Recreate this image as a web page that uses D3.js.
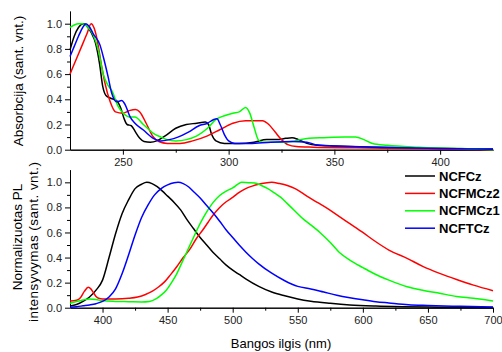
<!DOCTYPE html>
<html>
<head>
<meta charset="utf-8">
<script src="https://cdn.jsdelivr.net/npm/d3@7"></script>
<style>
  body { margin: 0; background: #fff; }
  svg { display: block; font-family: "Liberation Sans", Arial, sans-serif; }
  .tick text { font-size: 11px; fill: #222; }
  .domain, .tick line { stroke: #000; }
</style>
</head>
<body>
<div id="canvas"></div>
<script>
// absorption spectra [wavelength nm, normalised value]
const absNCFCz = [[225,0.79],[227,0.9],[229,0.97],[231.5,1.0],[233,0.98],[235,0.93],[237,0.85],[239,0.68],[240.5,0.5],[242,0.43],[244,0.41],[247,0.39],[249,0.33],[250.5,0.25],[252,0.2],[254,0.19],[256,0.14],[258,0.09],[260,0.065],[263,0.06],[266,0.07],[270,0.11],[275,0.17],[280,0.2],[285,0.21],[289,0.22],[290.5,0.2],[292,0.12],[294,0.07],[298,0.05],[305,0.05],[312,0.06],[318,0.08],[323,0.08],[327,0.09],[330,0.095],[333,0.08],[337,0.05],[342,0.035],[350,0.03],[370,0.02],[400,0.01],[425,0.005]];
const absNCFMCz2 = [[225,0.6],[227,0.68],[229,0.76],[231,0.84],[233,0.92],[235,1.0],[236.3,0.97],[237.5,0.9],[240,0.66],[241.5,0.53],[244,0.38],[246.5,0.3],[250,0.29],[253,0.31],[256,0.32],[258,0.3],[261,0.21],[264,0.11],[267,0.065],[271,0.05],[277,0.05],[283,0.07],[290,0.11],[296,0.16],[302,0.21],[308,0.23],[316,0.23],[319,0.2],[322,0.14],[325,0.08],[328,0.04],[332,0.025],[340,0.02],[360,0.015],[400,0.005],[425,0.0]];
const absNCFMCz1 = [[225,0.97],[227,0.99],[229,1.0],[231,1.0],[233,0.98],[236,0.91],[238.4,0.79],[240.7,0.6],[243,0.51],[244.7,0.47],[247.9,0.34],[250.2,0.29],[253.4,0.26],[255.7,0.26],[259.7,0.2],[264.4,0.13],[268,0.1],[271,0.08],[275,0.07],[280,0.08],[285,0.11],[290,0.17],[294,0.24],[298,0.27],[302,0.29],[305,0.3],[308,0.335],[310,0.29],[312,0.18],[314,0.08],[316,0.06],[325,0.06],[330,0.065],[334,0.08],[338,0.09],[345,0.095],[355,0.1],[360,0.1],[364,0.08],[368,0.05],[375,0.035],[390,0.02],[410,0.01],[425,0.0]];
const absNCFTCz = [[225,0.74],[227,0.82],[229,0.9],[231,0.97],[232.5,1.0],[234,0.98],[236,0.92],[239.2,0.83],[240.7,0.74],[243,0.58],[244.7,0.45],[247.1,0.38],[249.4,0.39],[251,0.36],[253.4,0.26],[255.7,0.21],[259.7,0.156],[264.4,0.09],[267.6,0.07],[272,0.08],[276,0.1],[281,0.14],[286,0.19],[290,0.21],[293,0.24],[294.5,0.245],[296,0.2],[298,0.12],[300,0.07],[303,0.05],[310,0.05],[320,0.06],[330,0.065],[337,0.06],[341,0.04],[350,0.03],[370,0.02],[400,0.01],[425,0.003]];

// photoluminescence spectra [wavelength nm, normalised value]
const plNCFCz = [[375,0.014],[380,0.025],[385,0.05],[390,0.085],[395,0.14],[400,0.22],[405,0.4],[410,0.59],[415,0.75],[420,0.86],[425,0.95],[430,0.985],[434,1.0],[438,0.99],[442,0.965],[446,0.93],[450,0.89],[455,0.84],[460,0.78],[465,0.7],[470,0.63],[475,0.56],[480,0.5],[485,0.44],[490,0.39],[495,0.34],[500,0.3],[505,0.265],[510,0.23],[520,0.17],[530,0.125],[540,0.095],[550,0.07],[560,0.052],[575,0.035],[590,0.022],[610,0.013],[630,0.008],[650,0.005],[675,0.003],[700,0.002]];
const plNCFMCz2 = [[375,0.053],[380,0.06],[383,0.08],[386,0.13],[389,0.163],[391,0.15],[393,0.12],[395,0.09],[397,0.075],[400,0.07],[410,0.07],[420,0.075],[427,0.085],[433,0.105],[438,0.13],[443,0.165],[448,0.21],[452,0.26],[457,0.327],[462,0.4],[467,0.465],[472,0.55],[477,0.62],[481,0.68],[485,0.74],[490,0.8],[495,0.845],[500,0.88],[505,0.92],[510,0.95],[515,0.97],[520,0.985],[525,0.995],[530,1.0],[536,0.99],[542,0.975],[548,0.95],[557,0.89],[565,0.84],[573,0.79],[582,0.726],[590,0.67],[600,0.6],[608,0.54],[620,0.46],[634,0.394],[646,0.33],[659,0.274],[672,0.225],[685,0.18],[700,0.136]];
const plNCFMCz1 = [[375,0.035],[380,0.05],[385,0.062],[390,0.07],[395,0.065],[400,0.055],[410,0.05],[420,0.048],[430,0.046],[436,0.05],[441,0.07],[445,0.1],[449,0.14],[453,0.2],[457,0.27],[461,0.36],[465,0.45],[469,0.54],[473,0.63],[477,0.71],[481,0.78],[485,0.84],[490,0.895],[495,0.93],[500,0.955],[504,0.985],[507,1.0],[512,0.997],[517,0.995],[522,0.975],[527,0.95],[532,0.915],[537,0.88],[542,0.83],[548,0.77],[555,0.7],[560,0.66],[567,0.6],[575,0.52],[582,0.44],[590,0.38],[600,0.32],[608,0.275],[620,0.22],[634,0.167],[646,0.14],[659,0.115],[672,0.09],[685,0.075],[700,0.053]];
const plNCFTCz = [[375,0.003],[380,0.008],[385,0.015],[390,0.022],[395,0.032],[400,0.05],[405,0.085],[410,0.15],[415,0.27],[420,0.42],[425,0.58],[430,0.72],[435,0.82],[440,0.9],[445,0.95],[450,0.98],[455,0.997],[458,1.0],[462,0.99],[466,0.965],[470,0.925],[475,0.875],[480,0.815],[485,0.755],[490,0.69],[495,0.62],[500,0.56],[505,0.5],[510,0.445],[515,0.395],[520,0.35],[530,0.275],[540,0.215],[550,0.17],[560,0.15],[570,0.125],[580,0.1],[590,0.08],[600,0.063],[610,0.048],[620,0.038],[635,0.024],[650,0.018],[675,0.011],[700,0.006]];

const seriesNames = ["NCFCz", "NCFMCz2", "NCFMCz1", "NCFTCz"];
const seriesColors = ["#000000", "#ff0000", "#00ff00", "#0000ff"];
const absData = [absNCFCz, absNCFMCz2, absNCFMCz1, absNCFTCz];
const plData = [plNCFCz, plNCFMCz2, plNCFMCz1, plNCFTCz];

const yMajor = [0, 0.2, 0.4, 0.6, 0.8, 1.0];
const yMinor = [0.1, 0.3, 0.5, 0.7, 0.9];
const absMajor = [250, 300, 350, 400];
const absMinor = [275, 325, 375];
const plMajor = [400, 450, 500, 550, 600, 650, 700];
const plMinor = [425, 475, 525, 575, 625, 675];

const svg = d3.select("#canvas")
    .append("svg")
    .attr("width", 502)
    .attr("height", 352);

function drawPanel(data, xDomain, xMajor, xMinor, top, bottom, smooth) {
    const x = d3.scaleLinear().domain(xDomain).range([70, 493]);
    const y = d3.scaleLinear().domain([0, 1.1]).range([bottom, top]);

    // minor ticks first, majors on top
    svg.append("g")
        .attr("transform", `translate(0,${bottom})`)
        .call(d3.axisBottom(x).tickValues(xMinor).tickSize(3).tickSizeOuter(0).tickFormat(""));
    svg.append("g")
        .attr("transform", `translate(0,${bottom})`)
        .call(d3.axisBottom(x).tickValues(xMajor).tickSize(5).tickSizeOuter(0).tickPadding(4).tickFormat(d3.format("d")));

    svg.append("g")
        .attr("transform", "translate(70,0)")
        .call(d3.axisLeft(y).tickValues(yMinor).tickSize(3).tickSizeOuter(0).tickFormat(""));
    svg.append("g")
        .attr("transform", "translate(70,0)")
        .call(d3.axisLeft(y).tickValues(yMajor).tickSize(5).tickSizeOuter(0).tickPadding(3).tickFormat(d3.format(".1f")));

    const line = d3.line()
        .x(d => x(d[0]))
        .y(d => y(d[1]))
        .curve(smooth ? d3.curveMonotoneX : d3.curveLinear);

    svg.append("g")
        .selectAll("path")
        .data(data)
        .join("path")
        .attr("fill", "none")
        .attr("stroke", (d, i) => seriesColors[i])
        .attr("stroke-width", 1.5)
        .attr("d", line);
}

drawPanel(absData, [225, 425], absMajor, absMinor, 11.1, 149.7, true);
drawPanel(plData, [375, 700], plMajor, plMinor, 169.8, 307.7, true);

// axis titles
svg.append("text")
    .attr("transform", "translate(23,81) rotate(-90)")
    .attr("text-anchor", "middle")
    .style("font-size", "13.5px")
    .text("Absorbcija (sant. vnt.)");

svg.append("text")
    .attr("transform", "translate(22,237) rotate(-90)")
    .attr("text-anchor", "middle")
    .style("font-size", "13.5px")
    .text("Normalizuotas PL");

svg.append("text")
    .attr("transform", "translate(38,242) rotate(-90)")
    .attr("text-anchor", "middle")
    .attr("textLength", 160)
    .style("font-size", "13.5px")
    .text("intensyvymas (sant. vnt.)");

svg.append("text")
    .attr("x", 281)
    .attr("y", 348)
    .attr("text-anchor", "middle")
    .style("font-size", "13px")
    .text("Bangos ilgis (nm)");

// legend
const legend = svg.append("g")
    .selectAll("g")
    .data(seriesNames)
    .join("g")
    .attr("transform", (d, i) => `translate(405,${176 + i * 17.4})`);

legend.append("line")
    .attr("x1", 0)
    .attr("x2", 30)
    .attr("stroke", (d, i) => seriesColors[i])
    .attr("stroke-width", 1.5);

legend.append("text")
    .attr("x", 34)
    .attr("dy", "0.35em")
    .style("font-size", "13px")
    .style("font-weight", "bold")
    .text(d => d);
</script>
</body>
</html>
